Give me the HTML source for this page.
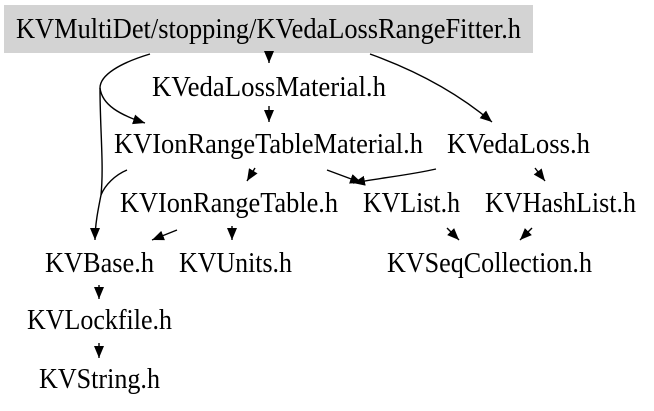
<!DOCTYPE html>
<html><head><meta charset="utf-8"><style>
html,body{margin:0;padding:0;background:#fff;width:654px;height:411px;overflow:hidden}
text{font-family:"Liberation Serif",serif;font-size:28px;fill:#000}
</style></head><body>
<svg width="654" height="411" viewBox="0 0 654 411" xmlns="http://www.w3.org/2000/svg">
<defs><marker id="a" markerWidth="13" markerHeight="11" refX="12" refY="5.5" orient="auto" markerUnits="userSpaceOnUse"><path d="M0,0.5 L12,5.5 L0,10.5 z" fill="#000"/></marker></defs>
<rect x="4" y="5" width="529" height="48" fill="#d3d3d3"/>
<text x="16" y="38" textLength="505" lengthAdjust="spacingAndGlyphs">KVMultiDet/stopping/KVedaLossRangeFitter.h</text>
<text x="152" y="96" textLength="234" lengthAdjust="spacingAndGlyphs">KVedaLossMaterial.h</text>
<text x="114" y="153" textLength="309" lengthAdjust="spacingAndGlyphs">KVIonRangeTableMaterial.h</text>
<text x="447" y="153" textLength="143" lengthAdjust="spacingAndGlyphs">KVedaLoss.h</text>
<text x="120" y="212" textLength="218" lengthAdjust="spacingAndGlyphs">KVIonRangeTable.h</text>
<text x="363" y="212" textLength="97" lengthAdjust="spacingAndGlyphs">KVList.h</text>
<text x="485" y="212" textLength="151" lengthAdjust="spacingAndGlyphs">KVHashList.h</text>
<text x="45" y="272" textLength="109" lengthAdjust="spacingAndGlyphs">KVBase.h</text>
<text x="179" y="272" textLength="113" lengthAdjust="spacingAndGlyphs">KVUnits.h</text>
<text x="387" y="272" textLength="205" lengthAdjust="spacingAndGlyphs">KVSeqCollection.h</text>
<text x="27" y="329" textLength="145" lengthAdjust="spacingAndGlyphs">KVLockfile.h</text>
<text x="39" y="388" textLength="121" lengthAdjust="spacingAndGlyphs">KVString.h</text>
<g stroke="#000" stroke-width="1.4" fill="none" marker-end="url(#a)">
<line x1="269" y1="51" x2="269" y2="63"/>
<line x1="269" y1="106" x2="269" y2="122"/>
<path d="M370,54 C420,72 460,95 492,122"/>
<path d="M150,54 C120,63 100,75 100,88 C102,105 120,115 145,123"/>
<path d="M100,88 C100,130 104,165 101,195 C98,210 95,225 95,240"/>
<path d="M127,170 C115,175 105,185 101,195" marker-end="none"/>
<line x1="255" y1="168" x2="247" y2="181"/>
<line x1="327" y1="170" x2="362" y2="183"/>
<path d="M436,169 C410,175 380,178 353,183"/>
<line x1="535" y1="168" x2="545" y2="181"/>
<line x1="177" y1="230" x2="152" y2="240"/>
<line x1="232" y1="226" x2="232" y2="240"/>
<line x1="447" y1="228" x2="459" y2="240"/>
<line x1="532" y1="228" x2="520" y2="240"/>
<line x1="99" y1="285" x2="99" y2="299"/>
<line x1="99" y1="343" x2="99" y2="358"/>
</g>
</svg>
</body></html>
